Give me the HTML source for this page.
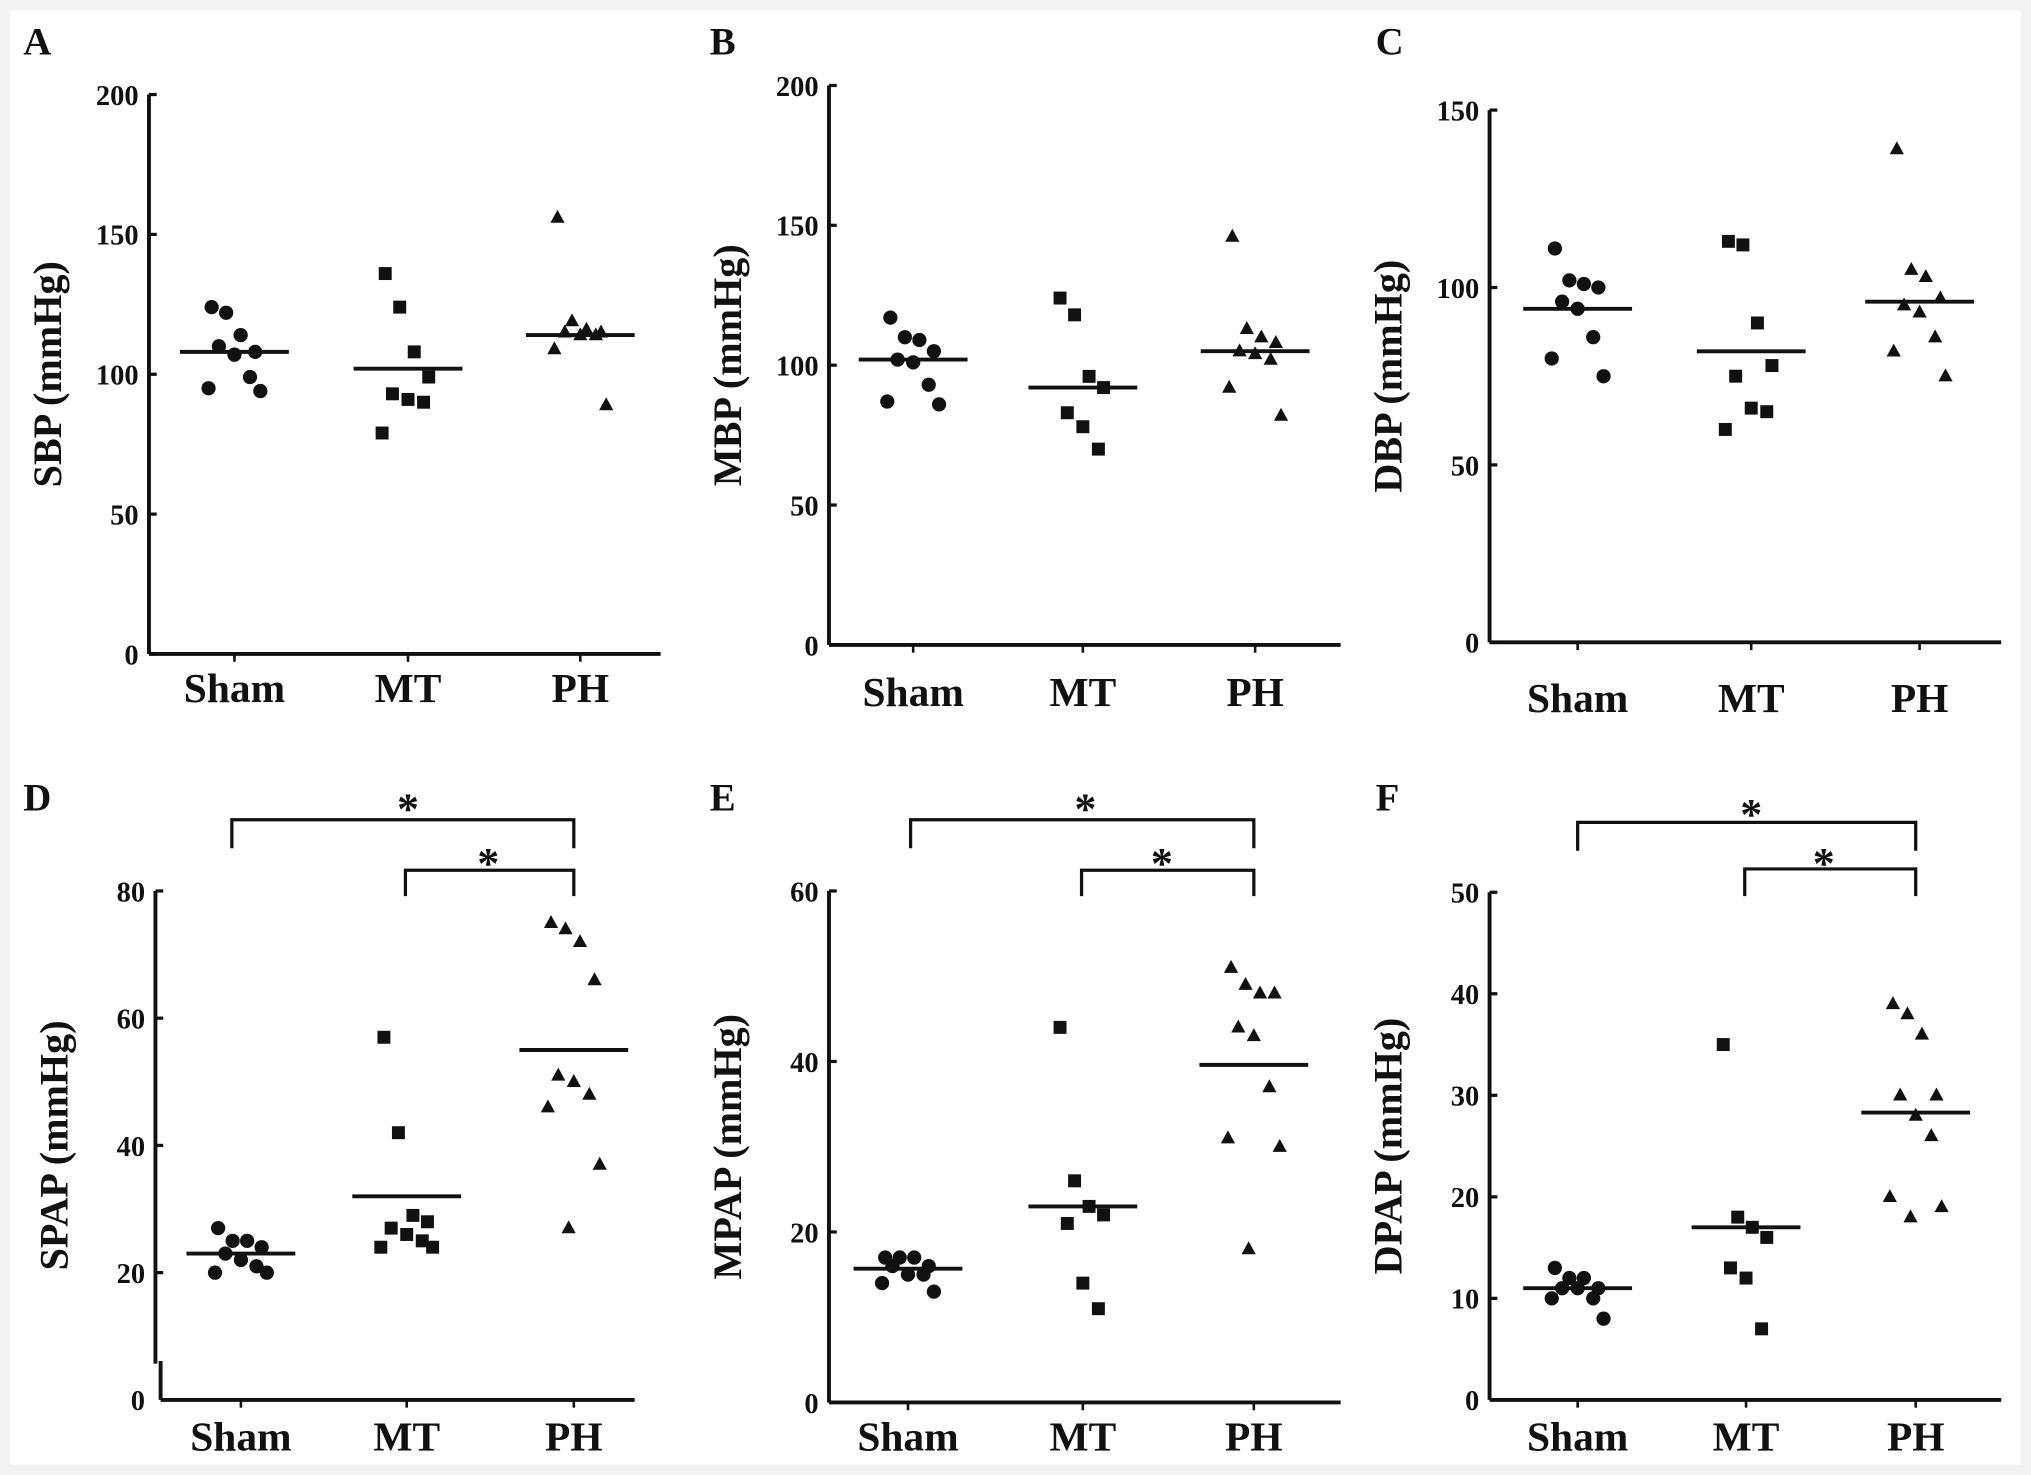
<!DOCTYPE html>
<html><head><meta charset="utf-8"><style>
html,body{margin:0;padding:0;background:#f2f2f2;}
svg{display:block;}
text{font-family:"Liberation Serif",serif;font-weight:bold;fill:#111;}
</style></head><body>
<svg id="fig" width="2031" height="1475" viewBox="0 0 1568 1139" preserveAspectRatio="none" xmlns="http://www.w3.org/2000/svg">
<rect x="8" y="8" width="1552" height="1123" fill="#fff"/>
</svg>
<script>
const categories = ["Sham","MT","PH"];
const shamA=[124,122,114,108,110,107,99,95,94], mtA=[136,124,108,99,93,91,90,79], phA=[156,119,116,115,115,114,114,109,89];
const meanA=[108,102,114];
const shamB=[117,110,109,105,102,101,93,87,86], mtB=[124,118,96,92,83,78,70], phB=[146,113,110,108,105,104,102,92,82];
const meanB=[102,92,105];
const shamC=[111,102,101,100,96,94,86,80,75], mtC=[113,112,90,78,75,66,65,60], phC=[139,105,103,97,95,93,86,82,75];
const meanC=[94,82,96];
const shamD=[27,25,25,24,23,22,21,20,20], mtD=[57,42,29,28,27,26,25,24,24], phD=[75,74,72,66,51,50,48,46,37,27];
const meanD=[23,32,55];
const shamE=[17,17,17,16,16,15,15,14,13], mtE=[44,26,23,22,21,14,11], phE=[51,49,48,48,44,43,37,31,30,18];
const meanE=[15.7,23,39.6];
const shamF=[13,12,12,11,11,11,10,10,8], mtF=[35,18,17,16,13,12,7], phF=[39,38,36,30,30,28,26,20,19,18];
const meanF=[11,17,28.3];
const ticksA=[0,50,100,150,200], ticksC=[0,50,100,150], ticksD=[0,20,40,60,80], ticksE=[0,20,40,60], ticksF=[0,10,20,30,40,50];

const NS="http://www.w3.org/2000/svg";
const svg=document.getElementById('fig');
function mk(tag,attrs,parent,txt){const e=document.createElementNS(NS,tag);for(const k in attrs)e.setAttribute(k,attrs[k]);if(txt!==undefined)e.textContent=txt;(parent||svg).appendChild(e);return e;}

const panels=[
 {id:"A",title:"SBP (mmHg)",ax:115,y0:505,y1:73,max:200,ticks:ticksA,cx:[181,315,448],data:[shamA,mtA,phA],mean:meanA,xEnd:510,lx:18,ly:42,catY:542},
 {id:"B",title:"MBP (mmHg)",ax:640,y0:498,y1:66,max:200,ticks:ticksA,cx:[705,836,969],data:[shamB,mtB,phB],mean:meanB,xEnd:1035,lx:548,ly:42,catY:545},
 {id:"C",title:"DBP (mmHg)",ax:1150,y0:496,y1:85,max:150,ticks:ticksC,cx:[1218,1352,1482],data:[shamC,mtC,phC],mean:meanC,xEnd:1545,lx:1062,ly:42,catY:550},
 {id:"D",title:"SPAP (mmHg)",ax:120,y0:1081,y1:688,max:80,ticks:ticksD,cx:[186,314,443],data:[shamD,mtD,phD],mean:meanD,xEnd:490,lx:18,ly:626,catY:1120,brk:true,
  br:[[179,443,633,655,315,622],[313,443,672,692,377,664]]},
 {id:"E",title:"MPAP (mmHg)",ax:640,y0:1083,y1:688,max:60,ticks:ticksE,cx:[701,836,968],data:[shamE,mtE,phE],mean:meanE,xEnd:1035,lx:548,ly:626,catY:1120,
  br:[[703,968,633,655,838,622],[835,968,672,692,897,664]]},
 {id:"F",title:"DPAP (mmHg)",ax:1150,y0:1081,y1:689,max:50,ticks:ticksF,cx:[1218,1348,1479],data:[shamF,mtF,phF],mean:meanF,xEnd:1545,lx:1062,ly:626,catY:1120,
  br:[[1218,1479,635,657,1352,626],[1347,1479,671,692,1408,664]]}
];
const jit=[-22,-8,6,20,-15,0,15,-25,25,-5];
panels.forEach(p=>{
  const g=mk('g',{});
  
  
  const y=v=>p.y0-(v/p.max)*(p.y0-p.y1);
  const lab=mk('text',{x:p.lx,y:p.ly,'font-size':30},g,p.id);
  
  
  // y axis
  const yTop=p.y1, yBot=p.brk? p.y0-28 : p.y0;
  const ya=mk('line',{x1:p.ax,y1:yTop,x2:p.ax,y2:yBot,stroke:'#111','stroke-width':3},g);
  
  
  if(p.brk){mk('line',{x1:p.ax+4,y1:p.y0-30,x2:p.ax+4,y2:p.y0,stroke:'#111','stroke-width':3},g);}
  const xa=mk('line',{x1:p.brk?p.ax+4:p.ax,y1:p.y0,x2:p.xEnd,y2:p.y0,stroke:'#111','stroke-width':3},g);
  
  
  p.ticks.forEach(t=>{
    if(!(p.brk&&t===0)) mk('line',{x1:p.ax,y1:y(t),x2:p.ax+6,y2:y(t),stroke:'#111','stroke-width':2.5},g);
    const tl=mk('text',{x:p.ax-8,y:y(t)+8,'font-size':22,'text-anchor':'end'},g,String(t));
    
    
  });
  const yt=mk('text',{x:0,y:0,'font-size':31,'text-anchor':'middle',transform:`translate(${p.ax-68},${(p.y0+p.y1)/2}) rotate(-90)`},g,p.title);
  
  
  categories.forEach((c,i)=>{
    mk('line',{x1:p.cx[i],y1:p.y0,x2:p.cx[i],y2:p.y0+6,stroke:'#111','stroke-width':2},g);
    const cl=mk('text',{x:p.cx[i],y:p.catY,'font-size':32,'text-anchor':'middle'},g,c);
    
    
    p.data[i].forEach((v,k)=>{
      const px=p.cx[i]+jit[k%jit.length]*0.8, py=y(v);
      let m;
      if(i===0) m=mk('circle',{cx:px,cy:py,r:5.5,fill:'#111'},g);
      else if(i===1) m=mk('rect',{x:px-5,y:py-5,width:10,height:10,fill:'#111'},g);
      else m=mk('polygon',{points:`${px},${py-6} ${px-5.5},${py+4} ${px+5.5},${py+4}`,fill:'#111'},g);
      
      
    });
    const ml=mk('line',{x1:p.cx[i]-42,y1:y(p.mean[i]),x2:p.cx[i]+42,y2:y(p.mean[i]),stroke:'#111','stroke-width':3},g);
    
    
  });
  (p.br||[]).forEach(b=>{
    const br=mk('polyline',{points:`${b[0]},${b[3]} ${b[0]},${b[2]} ${b[1]},${b[2]} ${b[1]},${b[3]}`,fill:'none',stroke:'#111','stroke-width':2.5},g);
    
    
    const st=mk('text',{x:b[4],y:b[5]+14,'font-size':34,'text-anchor':'middle'},g,'*');
    
    
  });
});
</script>
</body></html>
